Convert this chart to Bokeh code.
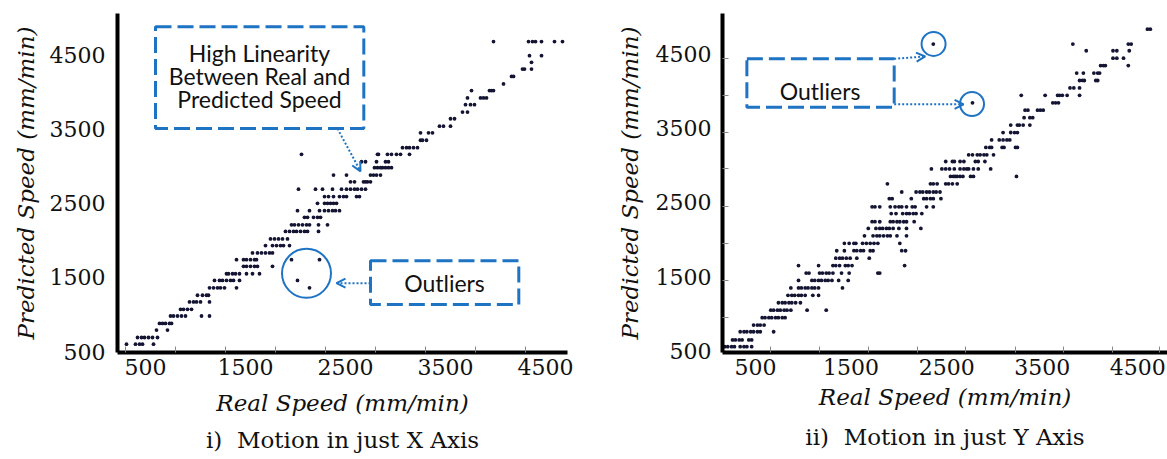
from bokeh.plotting import figure
from bokeh.models import BoxAnnotation, Label, Arrow, OpenHead, FixedTicker, Title
from bokeh.layouts import row
from bokeh.embed import file_html
from bokeh.resources import INLINE

# ---------------- data: panel i) motion in just X axis ----------------
# predicted-speed levels (mm/min) and the real speeds (mm/min) observed at each level
xm_pred_levels = [4680, 4490, 4400, 4310, 4210, 4110, 4020, 3920, 3830, 3730, 3640,
                  3540, 3450, 3350, 3250, 3160, 3060, 2980, 2880, 2790, 2690, 2590,
                  2500, 2400, 2310, 2210, 2120, 2020, 1930, 1830, 1740, 1650, 1550,
                  1460, 1360, 1260, 1170, 1070, 980, 880, 790, 690, 600]
xm_real_rows = [
    [3980, 4330, 4370, 4400, 4460, 4590, 4670],
    [4340, 4460],
    [4360],
    [4270, 4290, 4360],
    [4160, 4180],
    [4080],
    [3760, 3940, 3960, 3980],
    [3720, 3850, 3880, 3910],
    [3700, 3750, 3790],
    [3670, 3720],
    [3550, 3590],
    [3440, 3480, 3550],
    [3250, 3330, 3370],
    [3250, 3270, 3310],
    [3070, 3110, 3140, 3180, 3220],
    [2060, 2820, 2830, 2920, 2960, 3010, 3050, 3140],
    [2660, 2700, 2810, 2900, 2930],
    [2790, 2820, 2850, 2870, 2900, 2930, 2960],
    [2380, 2510, 2750, 2780, 2810, 2850],
    [2550, 2590, 2680, 2700, 2720, 2750],
    [2030, 2200, 2270, 2370, 2460, 2510, 2550, 2590, 2620, 2660, 2700],
    [2290, 2330, 2380, 2440, 2480, 2510, 2610, 2640],
    [2220, 2290, 2320, 2350, 2380, 2410],
    [2020, 2140, 2240, 2290, 2330, 2370, 2400, 2440],
    [2090, 2120, 2180, 2220, 2250],
    [1960, 1990, 2030, 2070, 2110, 2140, 2230, 2320],
    [1900, 1940, 1980, 2010, 2050, 2090, 2120, 2230],
    [1750, 1790, 1830, 1870, 1920],
    [1700, 1770, 1810, 1850, 1880, 1940],
    [1570, 1620, 1660, 1700, 1740, 1770],
    [1410, 1480, 1510, 1550, 1590, 1610, 1960, 2240],
    [1480, 1510, 1550, 1590, 1620, 1770],
    [1310, 1330, 1370, 1400, 1440, 1510, 1570, 1640],
    [1190, 1240, 1270, 1310, 1350, 1380, 1440, 2020],
    [1140, 1180, 1220, 1250, 1290, 1410, 2140],
    [1020, 1070, 1110, 1130],
    [940, 980, 1010, 1050, 1140],
    [850, 880, 920, 960],
    [750, 780, 820, 860, 900, 1060, 1140],
    [640, 670, 700, 740, 760],
    [610, 720],
    [420, 460, 490, 530, 570, 620],
    [310, 400, 440, 470, 580],
]

# ---------------- data: panel ii) motion in just Y axis ----------------
ym_pred_levels = [4830, 4630, 4540, 4440, 4340, 4240, 4140, 4040, 3940, 3840, 3740,
                  3640, 3540, 3440, 3340, 3240, 3140, 3050, 2950, 2850, 2750, 2640,
                  2550, 2440, 2350, 2240, 2150, 2050, 1950, 1850, 1750, 1650, 1550,
                  1450, 1350, 1250, 1150, 1050, 950, 850, 760, 650, 560]
ym_real_rows = [
    [4600, 4630],
    [2360, 3820, 4400, 4430],
    [3960, 4240, 4280, 4410],
    [4240, 4280, 4350],
    [4110, 4140, 4160, 4400],
    [3860, 3930, 4040, 4080, 4100],
    [3890, 3920, 3940, 4060, 4080],
    [3790, 3830, 3890],
    [3280, 3530, 3660, 3680, 3710, 3760, 3890],
    [2770, 3610, 3640, 3670],
    [3320, 3350, 3450, 3480, 3510],
    [3310, 3370, 3400],
    [3170, 3240, 3260, 3300, 3370],
    [3090, 3170, 3210, 3240],
    [2970, 3050, 3090, 3130, 3160],
    [2910, 2950, 2970, 3080, 3100, 3220, 3240],
    [2730, 2770, 2820, 2850, 2890, 2920, 2990],
    [2490, 2560, 2580, 2640, 2680, 2800, 2830, 2900],
    [2340, 2450, 2490, 2530, 2580, 2640, 2680, 2710, 2730, 2780, 2830, 2960],
    [2540, 2570, 2590, 2610, 2640, 2670, 2750, 2780, 3230],
    [1880, 2330, 2360, 2400, 2490, 2520, 2560, 2610],
    [2030, 2180, 2220, 2250, 2290, 2320, 2360, 2390, 2430],
    [1900, 1930, 2130, 2260, 2290, 2330, 2360, 2440],
    [1720, 1750, 1800, 1910, 1960, 2000, 2030, 2080, 2140, 2170, 2290, 2360],
    [1920, 1970, 2040, 2080, 2110, 2150, 2180, 2240],
    [1720, 1750, 1800, 1910, 1940, 1980, 2010, 2050, 2080, 2160],
    [1680, 1760, 1800, 1830, 1870, 1900, 1940, 2000, 2080, 2230],
    [1640, 1730, 1770, 1800, 1840, 1880, 1910, 1980, 2080],
    [1430, 1480, 1530, 1550, 1620, 1660, 1700, 1740, 1780, 2010],
    [1350, 1430, 1530, 1560, 1600, 1630, 1700, 1730, 2030, 2070],
    [1340, 1380, 1410, 1450, 1490, 1560, 1690],
    [950, 1160, 1310, 1340, 1380, 1440, 1470, 1510, 2060],
    [1030, 1060, 1170, 1200, 1240, 1270, 1310, 1400, 1480, 1780, 1800],
    [950, 1090, 1120, 1160, 1190, 1230, 1260, 1300, 1370, 1470],
    [870, 950, 980, 1020, 1050, 1090, 1120, 1160, 1410],
    [840, 880, 910, 950, 980, 1020, 1100, 1160],
    [740, 780, 810, 850, 880, 920, 970],
    [660, 690, 730, 760, 800, 830, 870, 1040, 1240],
    [570, 600, 640, 670, 710, 740, 780, 810],
    [480, 520, 550, 590],
    [340, 380, 410, 450, 480, 520, 550, 690],
    [260, 290, 330, 360, 430, 460],
    [180, 210, 250, 280, 340, 380, 410, 460],
]

tick_labels = [500, 1500, 2500, 3500, 4500]
xm_x_tick_marks = [300, 800, 1300, 1800, 2300, 2800, 3300, 3800, 4300]
ym_x_tick_marks = [660, 1170, 1680, 2190, 2700, 3220, 3720, 4230, 4730]
ym_y_tick_marks = [950, 1450, 1950, 2450, 2950, 3440, 3940, 4430]

BLUE = "#1f73c3"
POINT = "#141433"
SERIF = "DejaVu Serif"
SANS = "Lato"


def flatten(levels, rows):
    xs, ys = [], []
    for lvl, r in zip(levels, rows):
        for v in r:
            xs.append(v)
            ys.append(lvl)
    return xs, ys


def style_axes(p, x_minor, y_minor, ylab_standoff, yaxis_label_standoff,
               xaxis_label_standoff):
    for ax in (p.xaxis[0], p.yaxis[0]):
        ax.axis_line_color = "black"
        ax.axis_line_width = 4
        ax.major_tick_in = 0
        ax.major_tick_out = 0
        ax.minor_tick_in = 6
        ax.minor_tick_out = 0
        ax.minor_tick_line_color = "#8a8a8a"
        ax.minor_tick_line_width = 1
        ax.major_label_text_font = SERIF
        ax.major_label_text_font_size = "22px"
        ax.major_label_text_color = "#111111"
        ax.axis_label_text_font = SERIF
        ax.axis_label_text_font_size = "23px"
        ax.axis_label_text_font_style = "italic"
        ax.axis_label_text_color = "#111111"
    p.xaxis[0].ticker = FixedTicker(ticks=tick_labels, minor_ticks=x_minor)
    p.yaxis[0].ticker = FixedTicker(ticks=tick_labels, minor_ticks=y_minor)
    p.xaxis[0].major_label_standoff = 6
    p.xaxis[0].axis_label_standoff = xaxis_label_standoff
    p.yaxis[0].major_label_standoff = ylab_standoff
    p.yaxis[0].axis_label_standoff = yaxis_label_standoff
    p.xaxis[0].axis_label = "Real Speed (mm/min)"
    p.yaxis[0].axis_label = "Predicted Speed (mm/min)"
    p.xgrid.visible = False
    p.ygrid.visible = False
    p.outline_line_color = None


def dashed_box(p, left, right, top, bottom):
    p.add_layout(BoxAnnotation(left=left, right=right, top=top, bottom=bottom,
                               fill_alpha=0, fill_color=None, line_color=BLUE,
                               line_width=3, line_dash="16 6", line_alpha=1))


def dotted_arrow(p, x0, y0, x1, y1):
    p.add_layout(Arrow(end=OpenHead(size=9, line_color=BLUE, line_width=2),
                       x_start=x0, y_start=y0, x_end=x1, y_end=y1,
                       line_color=BLUE, line_width=2, line_dash="2 2"))


def note(p, x, y, text):
    p.add_layout(Label(x=x, y=y, text=text, text_font=SANS, text_font_size="23px",
                       text_align="center", text_baseline="middle",
                       text_color="#111111"))


# ---------------- panel i) ----------------
p1 = figure(width=590, height=459, x_range=(220, 4720), y_range=(488, 5059),
            output_backend="svg", toolbar_location=None,
            min_border_left=117, min_border_right=23, min_border_top=13,
            min_border_bottom=102)
style_axes(p1, xm_x_tick_marks, [], 12, 8, 12)
x1s, y1s = flatten(xm_pred_levels, xm_real_rows)
p1.scatter(x1s, y1s, marker="circle", size=3.8, color=POINT, line_width=0)

lin_box = (600, 2683, 4881, 3507)
dashed_box(p1, *lin_box)
for (ty, t) in zip([4527, 4216, 3906],
                   ["High Linearity", "Between Real and", "Predicted Speed"]):
    note(p1, 1640, ty, t)
dotted_arrow(p1, 2420, 3507, 2650, 2931)

p1.scatter([2110], [1556], marker="circle", size=49, fill_color=None,
           line_color=BLUE, line_width=2)
dashed_box(p1, 2750, 4233, 1725, 1135)
note(p1, 3490, 1423, "Outliers")
dotted_arrow(p1, 2750, 1423, 2410, 1423)

p1.add_layout(Title(text="i)\u00a0\u00a0Motion in just X Axis", align="center",
                    text_font=SERIF, text_font_size="23px",
                    text_font_style="normal", text_color="#111111",
                    offset=-13, standoff=12), "below")

# ---------------- panel ii) ----------------
p2 = figure(width=577, height=459, x_range=(155, 4810), y_range=(481, 5041),
            output_backend="svg", toolbar_location=None,
            min_border_left=132, min_border_right=0, min_border_top=9,
            min_border_bottom=107)
style_axes(p2, ym_x_tick_marks, ym_y_tick_marks, 11, 10, 6)
x2s, y2s = flatten(ym_pred_levels, ym_real_rows)
p2.scatter(x2s, y2s, marker="circle", size=3.8, color=POINT, line_width=0)

dashed_box(p2, 410, 1951, 4432, 3780)
note(p2, 1176, 3997, "Outliers")
p2.scatter([2363, 2765], [4632, 3824], marker="circle", size=24, fill_color=None,
           line_color=BLUE, line_width=2)
dotted_arrow(p2, 1951, 4432, 2276, 4463)
dotted_arrow(p2, 1951, 3820, 2677, 3820)

p2.add_layout(Title(text="ii)\u00a0\u00a0Motion in just Y Axis", align="center",
                    text_font=SERIF, text_font_size="23px",
                    text_font_style="normal", text_color="#111111",
                    standoff=18), "below")

layout = row(p1, p2, spacing=0)
open("out.html", "w").write(file_html(layout, INLINE))
